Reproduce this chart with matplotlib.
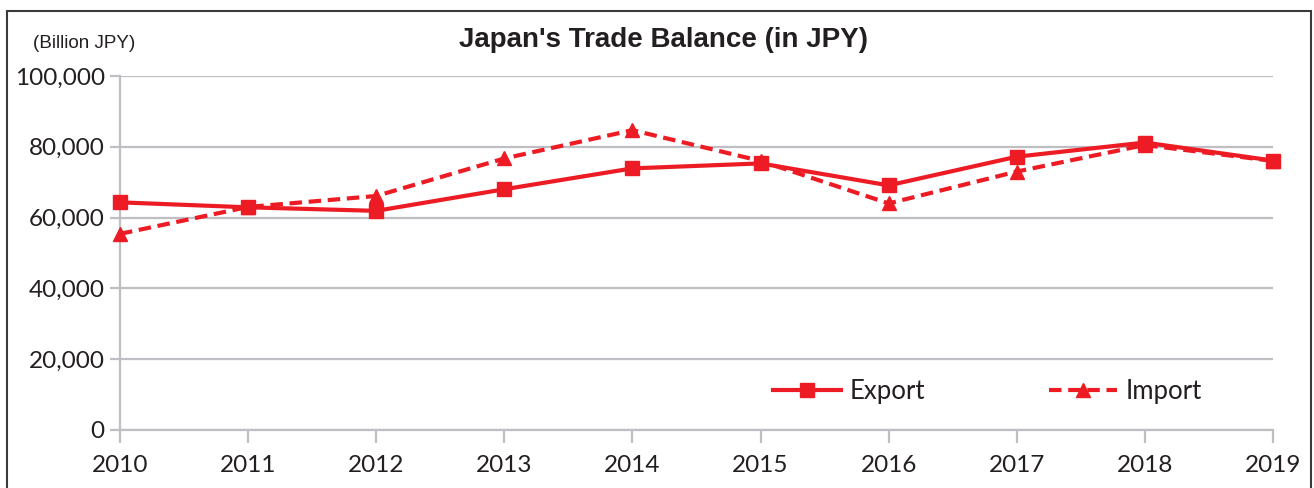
import matplotlib.pyplot as plt
from matplotlib.patches import Rectangle
from matplotlib.ticker import FuncFormatter

# datos (miles de millones de yenes)
years = [2010, 2011, 2012, 2013, 2014, 2015, 2016, 2017, 2018, 2019]
export = [64300, 62900, 61900, 68000, 73900, 75300, 69100, 77200, 81200, 76100]
imports = [55400, 63000, 66100, 76700, 84700, 76000, 64000, 73000, 80500, 76000]

red = '#ED1C24'
grey = '#BFBFC3'

fig = plt.figure(figsize=(13.14, 4.88), dpi=100)
ax = fig.add_axes([0.0913, 0.1189, 0.8775, 0.7254])

ax.plot(years, export, color=red, lw=3, marker='s', ms=10, clip_on=False,
        label='Export', zorder=4)
ax.plot(years, imports, color=red, lw=3, ls=(0, (3, 1.6)), marker='^', ms=10,
        clip_on=False, label='Import', zorder=3)

ax.set_xlim(2010, 2019)
ax.set_ylim(0, 100000)
ax.set_xticks(years)
ax.set_yticks(range(0, 100001, 20000))
ax.yaxis.set_major_formatter(FuncFormatter(lambda v, p: f'{int(v):,}'))

ax.grid(axis='y', color=grey, lw=1.6)
ax.set_axisbelow(True)
for s in ['top', 'right']:
    ax.spines[s].set_visible(False)
for s in ['left', 'bottom']:
    ax.spines[s].set_color(grey)
    ax.spines[s].set_linewidth(1.6)
ax.tick_params(axis='both', colors=grey, width=1.6, labelcolor='#231F20',
               labelsize=17.5)
ax.tick_params(axis='y', length=7, pad=4)
ax.tick_params(axis='x', length=9, pad=9)
for lab in ax.get_xticklabels() + ax.get_yticklabels():
    lab.set_fontfamily('Lato')

ax.legend(loc='center left', bbox_to_anchor=(0.546, 0.108), ncol=2,
          frameon=False, handlelength=2.65, columnspacing=4.8,
          prop={'family': 'Lato', 'size': 18.5}, labelcolor='#231F20',
          handletextpad=0.35)

fig.text(0.505, 0.918, "Japan's Trade Balance (in JPY)", ha='center',
         va='center', fontsize=20, fontweight='bold',
         family='Liberation Sans', color='#231F20')
fig.text(0.025, 0.910, '(Billion JPY)', ha='left', va='center',
         fontsize=13.6, family='Liberation Sans', color='#231F20')

# marco exterior
fig.patches.append(Rectangle((0.0053, -0.05), 0.9924, 1.0275,
                             transform=fig.transFigure, fill=False,
                             edgecolor='#3A3A3A', lw=1.5))

fig.savefig('out.png', dpi=100)
